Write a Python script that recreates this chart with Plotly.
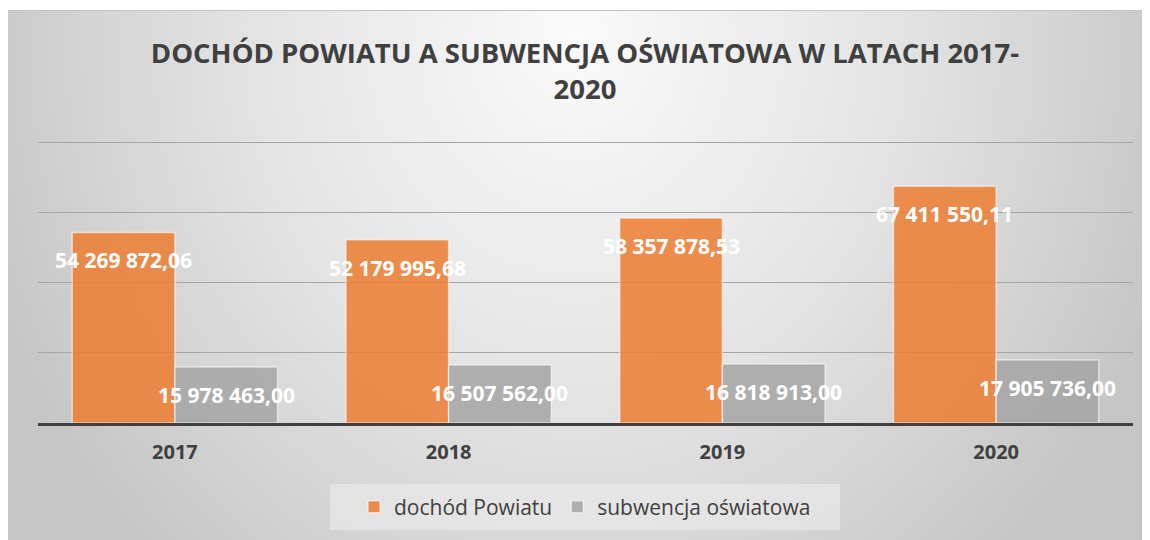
import plotly.graph_objects as go

years = ["2017", "2018", "2019", "2020"]
dochod = [54269872.06, 52179995.68, 58357878.53, 67411550.11]
subwencja = [15978463.00, 16507562.00, 16818913.00, 17905736.00]
series_names = ["dochód Powiatu", "subwencja oświatowa"]
title_text = "DOCHÓD POWIATU A SUBWENCJA OŚWIATOWA W LATACH 2017-<br>2020"

W, H = 1142, 532
FONT = "Open Sans"
DARK = "#404040"


def fmt_pl(v):
    return f"{v:,.2f}".replace(",", " ").replace(".", ",")


fig = go.Figure()

# background gradient panel (decoration, drawn on a hidden full-page subplot)
bg_x = [-55, 1190, 1190, -55, -55]
bg_y = [-668, -668, 732, 732, -668]
fig.add_trace(go.Scatter(
    x=bg_x, y=bg_y, fill="toself", mode="lines", line=dict(width=0),
    fillgradient=dict(type="radial", colorscale=[[0, "#fafafa"], [0.55, "#e2e2e2"], [1, "#c6c6c6"]]),
    xaxis="x", yaxis="y", showlegend=False, hoverinfo="skip"))

fig.add_trace(go.Bar(
    x=years, y=dochod, name=series_names[0],
    marker=dict(color="rgba(237,125,49,0.85)", line=dict(color="rgba(255,255,255,0.55)", width=1.5)),
    xaxis="x2", yaxis="y2", hoverinfo="skip"))
fig.add_trace(go.Bar(
    x=years, y=subwencja, name=series_names[1],
    marker=dict(color="rgba(165,165,165,0.85)", line=dict(color="rgba(255,255,255,0.55)", width=1.5)),
    xaxis="x2", yaxis="y2", hoverinfo="skip"))

annotations = []
bar_off = 0.1875
for i, y in enumerate(years):
    for vals, off in ((dochod, -bar_off), (subwencja, bar_off)):
        annotations.append(dict(
            x=i + off, y=vals[i], xref="x2", yref="y2", text=fmt_pl(vals[i]),
            showarrow=False, yanchor="middle", xanchor="center", yshift=-28,
            font=dict(family=FONT, size=21, color="white", weight="bold")))

fig.update_layout(
    width=W, height=H,
    margin=dict(l=0, r=0, t=0, b=0),
    paper_bgcolor="white", plot_bgcolor="rgba(0,0,0,0)",
    barmode="group", bargap=0.25, bargroupgap=0,
    font=dict(family=FONT, color=DARK),
    title=dict(text=title_text, x=577 / W, xanchor="center", y=1 - 55 / H, yanchor="top",
               font=dict(family=FONT, size=27.5, color=DARK, weight="bold")),
    xaxis=dict(domain=[0, 1], range=[0, W], visible=True, showgrid=False, zeroline=False,
               showticklabels=False, ticks="", showline=True, side="top", linecolor="#c4c4c4",
               linewidth=1, fixedrange=True),
    yaxis=dict(domain=[0, (H - 3) / H], range=[H, 3], visible=False, fixedrange=True),
    xaxis2=dict(domain=[30 / W, 1125 / W], anchor="y2", type="category",
                showgrid=False, zeroline=False, showline=True, linecolor=DARK, linewidth=3,
                ticks="", ticklabelstandoff=9,
                tickfont=dict(family=FONT, size=20, color=DARK, weight="bold")),
    yaxis2=dict(domain=[117 / H, (H - 130.5) / H], anchor="x2", range=[0, 81e6], dtick=20e6,
                showgrid=True, gridcolor="#a6a6a6", gridwidth=1, zeroline=False,
                showticklabels=False, ticks="", showline=False),
    legend=dict(orientation="h", x=577 / W, xanchor="center", y=(H - 499) / H, yanchor="middle",
                bgcolor="rgba(0,0,0,0)", font=dict(family=FONT, size=21, color=DARK),
                itemwidth=30, tracegroupgap=0),
    shapes=[dict(type="rect", xref="paper", yref="paper", layer="above",
                 x0=322 / W, x1=832 / W, y0=(H - 522) / H, y1=(H - 476) / H,
                 fillcolor="rgba(236,236,236,0.6)", line=dict(width=0))],
    annotations=annotations,
    showlegend=True,
)

fig.write_html("out.html")
